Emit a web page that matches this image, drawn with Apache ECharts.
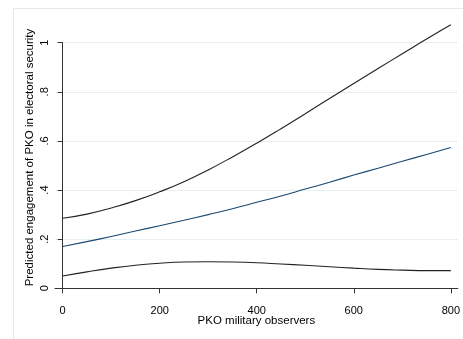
<!DOCTYPE html>
<html>
<head>
<meta charset="utf-8">
<script src="https://cdn.jsdelivr.net/npm/echarts@6/dist/echarts.min.js"></script>
<style>
html,body{margin:0;padding:0;background:#fff;}
#chart{width:463px;height:339px;}
</style>
</head>
<body>
<div id="chart"></div>
<script>
// Data
var observers = [0, 50, 100, 150, 200, 250, 300, 350, 400, 450, 500, 550, 600, 650, 700, 750, 800];
var upperCI   = [0.285, 0.302, 0.327, 0.357, 0.393, 0.434, 0.482, 0.535, 0.591, 0.650, 0.711, 0.773, 0.834, 0.895, 0.955, 1.015, 1.073];
var predicted = [0.170, 0.190, 0.211, 0.233, 0.255, 0.277, 0.300, 0.324, 0.350, 0.376, 0.404, 0.432, 0.461, 0.489, 0.517, 0.545, 0.573];
var lowerCI   = [0.050, 0.067, 0.082, 0.094, 0.102, 0.107, 0.108, 0.107, 0.104, 0.099, 0.094, 0.088, 0.082, 0.077, 0.074, 0.072, 0.072];
var xTicks = [0, 200, 400, 600, 800];
var yTickLabels = {0: '0', 0.2: '.2', 0.4: '.4', 0.6: '.6', 0.8: '.8', 1: '1'};
var xTitle = 'PKO military observers';
var yTitle = 'Predicted engagement of PKO in electoral security';

function pairs(ys) { return observers.map(function (x, i) { return [x, ys[i]]; }); }

var font = 'Liberation Sans, Arial, sans-serif';
var chart = echarts.init(document.getElementById('chart'), null, {renderer: 'canvas'});
chart.setOption({
  animation: false,
  backgroundColor: '#ffffff',
  graphic: [{
    type: 'rect', left: 11, top: 6, silent: true, z: -10,
    shape: {width: 470, height: 350},
    style: {fill: 'none', stroke: '#e3eaec', lineWidth: 1}
  }],
  grid: {left: 55, right: 3, top: 42.7, bottom: 50.7},
  xAxis: {
    type: 'value', min: -15.8, max: 814.4, offset: 7.4,
    name: xTitle, nameLocation: 'middle', nameGap: 19, nameMoveOverlap: false,
    nameTextStyle: {fontFamily: font, fontSize: 11.5, color: '#000'},
    axisLine: {show: true, lineStyle: {color: '#333', width: 1}},
    axisTick: {show: true, length: 5, customValues: xTicks, lineStyle: {color: '#333'}},
    axisLabel: {customValues: xTicks, margin: 10, fontFamily: font, fontSize: 11, color: '#000'},
    splitLine: {show: false}
  },
  yAxis: {
    type: 'value', min: 0, max: 1, interval: 0.2,
    name: yTitle, nameLocation: 'middle', nameGap: 19, nameRotate: 90, nameMoveOverlap: false,
    nameTextStyle: {fontFamily: font, fontSize: 11.5, color: '#000', padding: [0, 0, 0, 16]},
    axisLine: {show: true, lineStyle: {color: '#333', width: 1}},
    axisTick: {show: true, length: 5, lineStyle: {color: '#333'}},
    axisLabel: {
      rotate: 90, margin: 5, fontFamily: font, fontSize: 11, color: '#000',
      formatter: function (v) { var k = Math.round(v * 10) / 10; return yTickLabels[k] !== undefined ? yTickLabels[k] : ''; }
    },
    splitLine: {show: true, lineStyle: {color: '#e6eeef', width: 1}}
  },
  series: [
    {type: 'line', data: pairs(upperCI), showSymbol: false, smooth: true, clip: false,
     lineStyle: {color: '#222', width: 1.1}},
    {type: 'line', data: pairs(predicted), showSymbol: false, smooth: true, clip: false,
     lineStyle: {color: '#1a476f', width: 1.1}},
    {type: 'line', data: pairs(lowerCI), showSymbol: false, smooth: true, clip: false,
     lineStyle: {color: '#222', width: 1.1}}
  ]
});
</script>
</body>
</html>
